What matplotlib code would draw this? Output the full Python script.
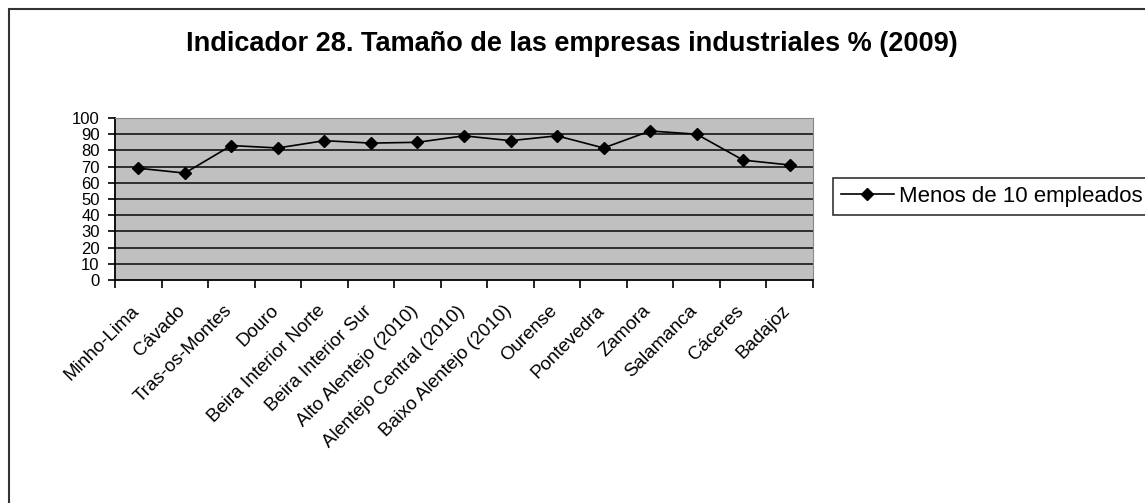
import numpy as np
import matplotlib
matplotlib.use("Agg")
import matplotlib.pyplot as plt
from matplotlib.patches import Rectangle
from matplotlib.transforms import ScaledTranslation

plt.rcParams["font.family"] = ["Liberation Sans", "DejaVu Sans"]

regiones = [
    "Minho-Lima", "Cávado", "Tras-os-Montes", "Douro", "Beira Interior Norte",
    "Beira Interior Sur", "Alto Alentejo (2010)", "Alentejo Central (2010)",
    "Baixo Alentejo (2010)", "Ourense", "Pontevedra", "Zamora", "Salamanca",
    "Cáceres", "Badajoz",
]
menos_10 = [69, 66, 83, 81.5, 86, 84.5, 85, 89, 86, 89, 81.5, 92, 90, 74, 71]
y_ticks = list(range(0, 101, 10))

W, H = 1145, 503
fig = plt.figure(figsize=(W / 100, H / 100), dpi=100)

# marco exterior del grafico
fig.patches.append(Rectangle((9 / W, -0.1), 2, 1.1 - 9 / H, transform=fig.transFigure,
                             fill=False, edgecolor="#333333", linewidth=1.5))

ax = fig.add_axes([115 / W, 1 - 280 / H, (813 - 115) / W, (280 - 118) / H])
ax.set_facecolor("#c0c0c0")

x = np.arange(len(regiones))
ax.plot(x, menos_10, color="black", linewidth=1.2, marker="D", markersize=6,
        label="Menos de 10 empleados")

ax.set_xlim(-0.5, len(regiones) - 0.5)
ax.set_ylim(0, 100)
ax.set_yticks(y_ticks)
ax.set_yticklabels([str(v) for v in y_ticks], fontsize=12)
for v in y_ticks[1:]:
    ax.axhline(v, color="#222222", linewidth=1.3, zorder=1)

ax.set_xticks(np.arange(len(regiones) + 1) - 0.5)
ax.set_xticklabels([])
ax.set_xticks(x, minor=True)
ax.set_xticklabels(regiones, minor=True, rotation=45, ha="right",
                   rotation_mode="anchor", fontsize=13.5)
ax.tick_params(axis="x", which="minor", length=0, pad=16)
ax.tick_params(axis="x", which="major", length=6, direction="out", width=1.2)
ax.tick_params(axis="y", length=5, direction="out", width=1.2, pad=6)

# desplazar un poco las etiquetas de categoria hacia la izquierda
shift = ScaledTranslation(-8 / 100, 0, fig.dpi_scale_trans)
for lbl in ax.get_xticklabels(minor=True):
    lbl.set_transform(lbl.get_transform() + shift)

for side in ["top", "right"]:
    ax.spines[side].set_color("#888888")
ax.spines["left"].set_linewidth(1.3)
ax.spines["bottom"].set_linewidth(1.3)

fig.text(572 / W, 1 - 44 / H, "Indicador 28. Tamaño de las empresas industriales % (2009)",
         ha="center", va="center", fontsize=19.5, fontweight="bold")

leg = ax.legend(loc="upper left", bbox_to_anchor=(833 / W, 1 - 178 / H),
                bbox_transform=fig.transFigure, fontsize=16, frameon=True,
                fancybox=False, borderaxespad=0, handlelength=2.4,
                borderpad=0.35, handletextpad=0.2)
leg.get_frame().set_edgecolor("black")
leg.get_frame().set_linewidth(1.2)

fig.savefig("out.png", dpi=100)
